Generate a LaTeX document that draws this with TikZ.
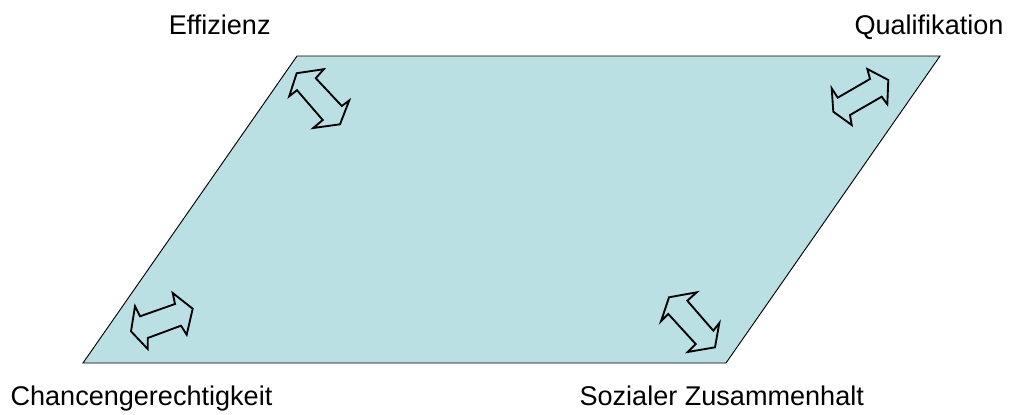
\documentclass[tikz,border=0pt]{standalone}
\usepackage{fontspec}
\setmainfont{Liberation Sans}
\definecolor{planefill}{RGB}{187,224,227}
\tikzset{
  plane/.style={draw=black, line width=0.7pt, fill=planefill},
  dblarrow/.style={draw=black, line width=1.4pt, line join=miter},
  label/.style={inner sep=0pt, font=\fontsize{20.3pt}{24pt}\selectfont}
}
\begin{document}
\begin{tikzpicture}[x=0.75pt, y=-0.75pt]
\useasboundingbox (0,0) rectangle (1016,414);
% plane
\coordinate (tl) at (297,56);
\coordinate (tr) at (940,56);
\coordinate (br) at (726,363);
\coordinate (bl) at (83,363);
\draw[plane] (tl) -- (tr) -- (br) -- (bl) -- cycle;
% double arrows
\draw[dblarrow] (296.7,73.2) -- (323.8,69.2) -- (315.8,78.2) -- (341.8,106) -- (349.2,100.5) -- (340,124.3) -- (313.3,128) -- (322.7,120) -- (297,90.2) -- (289.2,96.3) -- cycle;
\draw[dblarrow] (867.3,69) -- (888.3,80) -- (887.3,104.3) -- (881.7,96.7) -- (850,115) -- (851.7,125) -- (833.3,111.7) -- (831.7,88.3) -- (837.7,97.7) -- (870,79) -- cycle;
\draw[dblarrow] (172.7,293) -- (192.7,308.7) -- (186.7,334.7) -- (181,325.7) -- (147.7,338) -- (147.7,349) -- (131,331.3) -- (135,306.3) -- (140,316.3) -- (175,304) -- cycle;
\draw[dblarrow] (669,297.3) -- (696.7,292.3) -- (687.3,300.7) -- (713.3,330.7) -- (719.3,323) -- (715,347.3) -- (687.7,352) -- (695.7,344) -- (668.3,314) -- (661,321.3) -- cycle;
% labels
\node[label, anchor=base west] (eff) at (168.5,34.3) {Effizienz};
\node[label, anchor=base] (qual) at (929,34.3) {Qualifikation};
\node[label, anchor=base west] (chance) at (10.3,405.7) {Chancengerechtigkeit};
\node[label, anchor=base west] (sozial) at (579.3,405.7) {Sozialer Zusammenhalt};
\end{tikzpicture}
\end{document}
